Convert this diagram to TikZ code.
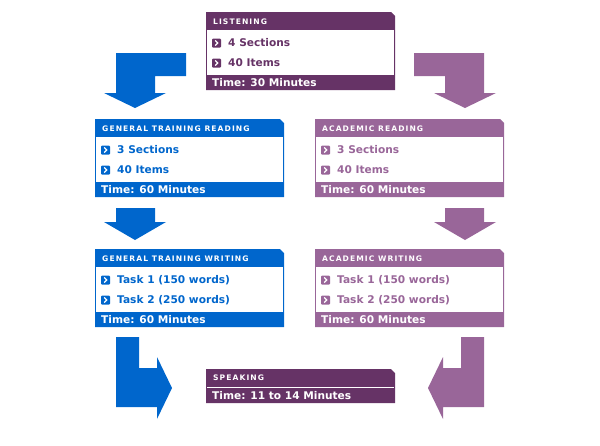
\documentclass[tikz,border=0pt]{standalone}
\usepackage{fontspec}
\setmainfont{DejaVu Sans}
\newfontfamily\ttl[LetterSpace=14]{DejaVu Sans}
\definecolor{cblue}{HTML}{0066CC}
\definecolor{cdark}{HTML}{663366}
\definecolor{clight}{HTML}{996699}
\tikzset{
 ttlt/.style={anchor=west,text=white,inner sep=0pt,font=\ttl\bfseries\fontsize{7.6}{9}\selectfont},
 itm/.style={anchor=west,inner sep=0pt,font=\bfseries\fontsize{10.6}{12}\selectfont},
 foot/.style={anchor=west,text=white,inner sep=0pt,font=\bfseries\fontsize{10.6}{12}\selectfont},
}
\newcommand{\bul}[3]{\fill[#3,rounded corners=1pt] (#1,#2-4.5) rectangle (#1+9,#2+4.5);
 \draw[white,line width=1.3pt] (#1+3.2,#2-2.5)--(#1+5.8,#2)--(#1+3.2,#2+2.5);}
% panel: x y color textcolor name title item1 item2 footer
\newcommand{\panel}[9]{%
 \fill[#3] (#1,#2)--(#1+185,#2)--(#1+189,#2+4)--(#1+189,#2+78)--(#1,#2+78)--cycle;
 \fill[white] (#1+1,#2+18) rectangle (#1+188,#2+63);
 \node[ttlt] (#5t) at (#1+7,#2+9.5) {#6};
 \bul{#1+6}{#2+31}{#3}
 \node[itm,text=#4] (#5a) at (#1+22,#2+31) {#7};
 \bul{#1+6}{#2+51}{#3}
 \node[itm,text=#4] (#5b) at (#1+22,#2+51) {#8};
 \node[foot] (#5f) at (#1+6,#2+71) {#9};}
\begin{document}
\begin{tikzpicture}[x=1pt,y=-1pt]
\useasboundingbox (0,0) rectangle (600,445);
% top arrows
\fill[cblue] (186,53)--(186,76)--(155,76)--(155,93)--(166,93)--(135,108)--(104,93)--(116,93)--(116,53)--cycle;
\fill[clight] (414,53)--(414,76)--(445,76)--(445,93)--(434,93)--(465,108)--(496,93)--(484,93)--(484,53)--cycle;
% middle arrows
\fill[cblue] (116,208)--(155,208)--(155,222)--(166,222)--(135,240)--(104,222)--(116,222)--cycle;
\fill[clight] (445,208)--(484,208)--(484,222)--(496,222)--(465,240)--(434,222)--(445,222)--cycle;
% bottom arrows
\fill[cblue] (116,337)--(139,337)--(139,368)--(157,368)--(157,357)--(172,388)--(157,419)--(157,407)--(116,407)--cycle;
\fill[clight] (484,337)--(461,337)--(461,368)--(443,368)--(443,357)--(428,388)--(443,419)--(443,407)--(484,407)--cycle;
\panel{206}{12}{cdark}{cdark}{lis}{LISTENING}{4 Sections}{40 Items}{Time: 30 Minutes}
\panel{95}{119}{cblue}{cblue}{gtr}{GENERAL TRAINING READING}{3 Sections}{40 Items}{Time: 60 Minutes}
\panel{315}{119}{clight}{clight}{acr}{ACADEMIC READING}{3 Sections}{40 Items}{Time: 60 Minutes}
\panel{95}{249}{cblue}{cblue}{gtw}{GENERAL TRAINING WRITING}{Task 1 (150 words)}{Task 2 (250 words)}{Time: 60 Minutes}
\panel{315}{249}{clight}{clight}{acw}{ACADEMIC WRITING}{Task 1 (150 words)}{Task 2 (250 words)}{Time: 60 Minutes}
% speaking
\fill[cdark] (206,369)--(391,369)--(395,373)--(395,403)--(206,403)--cycle;
\draw[white,line width=0.8pt] (207,387)--(394,387);
\node[ttlt] (spk) at (213,378) {SPEAKING};
\node[foot] (spkf) at (212,396) {Time: 11 to 14 Minutes};
\end{tikzpicture}
\end{document}
